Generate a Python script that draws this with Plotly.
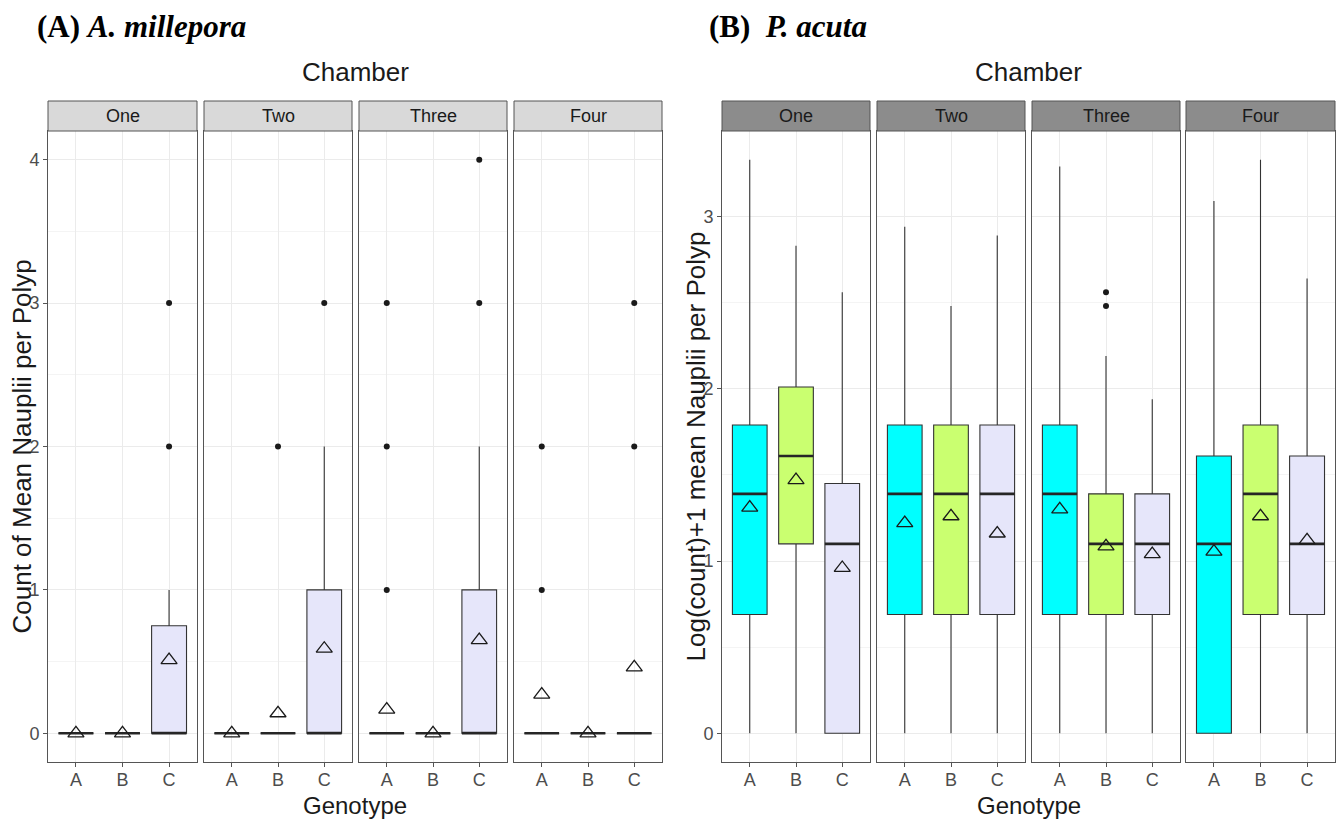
import plotly.graph_objects as go

# ---------------- data ----------------
chambers = ["One", "Two", "Three", "Four"]
genotypes = ["A", "B", "C"]
geno_colors = ["#00FFFF", "#CAFF70", "#E6E6FA"]

# Panel A: A. millepora  (count of mean nauplii per polyp)
mil_q1 = [[0, 0, 0], [0, 0, 0], [0, 0, 0], [0, 0, 0]]
mil_median = [[0, 0, 0], [0, 0, 0], [0, 0, 0], [0, 0, 0]]
mil_q3 = [[0, 0, 0.75], [0, 0, 1], [0, 0, 1], [0, 0, 0]]
mil_lower = [[0, 0, 0], [0, 0, 0], [0, 0, 0], [0, 0, 0]]
mil_upper = [[0, 0, 1], [0, 0, 2], [0, 0, 2], [0, 0, 0]]
mil_mean = [[0.0, 0.0, 0.51], [0.0, 0.14, 0.59], [0.165, 0.0, 0.65], [0.27, 0.0, 0.46]]
mil_outliers = [[[], [], [2, 3]], [[], [2], [3]], [[1, 2, 3], [], [3, 4]], [[1, 2], [], [2, 3]]]

# Panel B: P. acuta  (log(count)+1 mean nauplii per polyp)
acu_q1 = [[0.69, 1.10, 0.0], [0.69, 0.69, 0.69], [0.69, 0.69, 0.69], [0.0, 0.69, 0.69]]
acu_median = [[1.39, 1.61, 1.10], [1.39, 1.39, 1.39], [1.39, 1.10, 1.10], [1.10, 1.39, 1.10]]
acu_q3 = [[1.79, 2.01, 1.45], [1.79, 1.79, 1.79], [1.79, 1.39, 1.39], [1.61, 1.79, 1.61]]
acu_lower = [[0, 0, 0], [0, 0, 0], [0, 0, 0], [0, 0, 0]]
acu_upper = [[3.33, 2.83, 2.56], [2.94, 2.48, 2.89], [3.29, 2.19, 1.94], [3.09, 3.33, 2.64]]
acu_mean = [[1.31, 1.47, 0.96], [1.22, 1.26, 1.16], [1.30, 1.085, 1.04], [1.055, 1.26, 1.12]]
acu_outliers = [[[], [], []], [[], [], []], [[], [2.48, 2.56], []], [[], [], []]]

panel_titles = ["<b>(A) <i>A. millepora</i></b>", "<b>(B)\u00a0 <i>P. acuta</i></b>"]
y_titles = ["Count of Mean Nauplii per Polyp", "Log(count)+1 mean Nauplii per Polyp"]
y_ticks = [[0, 1, 2, 3, 4], [0, 1, 2, 3]]
y_minor = [[0.5, 1.5, 2.5, 3.5], [0.5, 1.5, 2.5, 3.5]]
facet_title = "Chamber"
x_title = "Genotype"

# ---------------- layout geometry (pixels) ----------------
W, H = 1342, 825
facet_px = [
    [(48, 197), (204, 352), (359, 507), (514, 662)],
    [(722, 870), (877, 1025), (1032, 1180), (1186, 1335)],
]
plot_top, plot_bot = 131, 762
strip_top = 101
strip_fill = ["#D9D9D9", "#8C8C8C"]

def px_x(v):
    return v / W

def px_y(v):
    return 1 - v / H

FONT = "Liberation Sans, Arial, Helvetica, sans-serif"
SERIF = "Liberation Serif, Times New Roman, serif"
BOXW = 0.75

panels = [
    dict(q1=mil_q1, med=mil_median, q3=mil_q3, lo=mil_lower, hi=mil_upper,
         mean=mil_mean, out=mil_outliers),
    dict(q1=acu_q1, med=acu_median, q3=acu_q3, lo=acu_lower, hi=acu_upper,
         mean=acu_mean, out=acu_outliers),
]

fig = go.Figure()
layout = dict(
    width=W, height=H,
    margin=dict(l=0, r=0, t=0, b=0),
    paper_bgcolor="white", plot_bgcolor="white",
    showlegend=False,
    font=dict(family=FONT, color="#1A1A1A"),
)
shapes = []
annotations = []

for p, d in enumerate(panels):
    # y range: ggplot style 5% expansion of data range
    vals = []
    for c in range(4):
        for g in range(3):
            vals += [d["lo"][c][g], d["hi"][c][g], d["mean"][c][g]] + list(d["out"][c][g])
    vmin, vmax = min(vals), max(vals)
    span = vmax - vmin
    yr = [vmin - 0.05 * span, vmax + 0.05 * span]

    for c in range(4):
        k = p * 4 + c + 1
        xa = "x" if k == 1 else f"x{k}"
        ya = "y" if k == 1 else f"y{k}"
        x0p, x1p = facet_px[p][c]
        first = (c == 0)
        layout[f"xaxis{k}" if k > 1 else "xaxis"] = dict(
            domain=[px_x(x0p), px_x(x1p)], anchor=ya,
            range=[-0.6, 2.6], tickvals=[0, 1, 2], ticktext=genotypes,
            showgrid=True, gridcolor="#EBEBEB", gridwidth=1,
            zeroline=False, showline=True, mirror=True,
            linecolor="#555555", linewidth=1,
            ticks="outside", ticklen=4, tickcolor="#555555",
            tickfont=dict(size=18, color="#4D4D4D", family=FONT),
            ticklabelstandoff=-3,
            fixedrange=True,
        )
        ykey = f"yaxis{k}" if k > 1 else "yaxis"
        yd = dict(
            domain=[px_y(plot_bot), px_y(plot_top)], anchor=xa,
            range=yr, tickvals=y_ticks[p],
            showgrid=True, gridcolor="#EBEBEB", gridwidth=1,
            minor=dict(tickvals=y_minor[p], showgrid=True, gridcolor="#F4F4F4",
                       gridwidth=0.6, ticks=""),
            zeroline=False, showline=True, mirror=True,
            linecolor="#555555", linewidth=1,
            fixedrange=True,
        )
        if first:
            yd.update(ticks="outside", ticklen=4, tickcolor="#555555",
                      tickfont=dict(size=18, color="#4D4D4D", family=FONT),
                      showticklabels=True)
        else:
            yd.update(ticks="", showticklabels=False,
                      matches=("y" if p == 0 else "y5"))
        layout[ykey] = yd

        # strip
        shapes.append(dict(type="rect", xref="paper", yref="paper",
                           x0=px_x(x0p), x1=px_x(x1p),
                           y0=px_y(plot_top), y1=px_y(strip_top),
                           fillcolor=strip_fill[p],
                           line=dict(color="#555555", width=1)))
        annotations.append(dict(text=chambers[c], xref="paper", yref="paper",
                                x=px_x((x0p + x1p) / 2), y=px_y((strip_top + plot_top) / 2),
                                showarrow=False, xanchor="center", yanchor="middle",
                                font=dict(size=18, color="#1A1A1A", family=FONT)))

        # boxes
        for g in range(3):
            fig.add_trace(go.Box(
                x=[g], q1=[d["q1"][c][g]], median=[d["med"][c][g]], q3=[d["q3"][c][g]],
                lowerfence=[d["lo"][c][g]], upperfence=[d["hi"][c][g]],
                width=BOXW, whiskerwidth=0, boxpoints=False,
                fillcolor=geno_colors[g],
                line=dict(color="#333333", width=1.1),
                xaxis=xa, yaxis=ya, hoverinfo="skip", showlegend=False,
            ))
        # thick median segments (ggplot fatten)
        for g in range(3):
            fig.add_trace(go.Scatter(
                x=[g - BOXW / 2, g + BOXW / 2], y=[d["med"][c][g]] * 2,
                mode="lines", line=dict(color="#262626", width=2.6),
                xaxis=xa, yaxis=ya, hoverinfo="skip", showlegend=False,
            ))
        # outliers
        ox, oy = [], []
        for g in range(3):
            for v in d["out"][c][g]:
                ox.append(g)
                oy.append(v)
        if ox:
            fig.add_trace(go.Scatter(
                x=ox, y=oy, mode="markers",
                marker=dict(symbol="circle", size=6, color="#1A1A1A"),
                xaxis=xa, yaxis=ya, hoverinfo="skip", showlegend=False,
            ))
        # means
        fig.add_trace(go.Scatter(
            x=[0, 1, 2], y=d["mean"][c], mode="markers",
            marker=dict(symbol="triangle-up-open", size=14, color="#1A1A1A",
                        line=dict(width=1.3, color="#1A1A1A")),
            xaxis=xa, yaxis=ya, hoverinfo="skip", showlegend=False,
        ))

    # panel-level texts
    left = facet_px[p][0][0]
    right = facet_px[p][3][1]
    cx = px_x((left + right) / 2)
    annotations.append(dict(text=facet_title, xref="paper", yref="paper",
                            x=cx, y=px_y(72), showarrow=False,
                            xanchor="center", yanchor="middle",
                            font=dict(size=26, color="#1A1A1A", family=FONT)))
    annotations.append(dict(text=x_title, xref="paper", yref="paper",
                            x=cx, y=px_y(805), showarrow=False,
                            xanchor="center", yanchor="middle",
                            font=dict(size=24, color="#1A1A1A", family=FONT)))
    annotations.append(dict(text=y_titles[p], xref="paper", yref="paper",
                            x=px_x([21, 695][p]), y=px_y((plot_top + plot_bot) / 2),
                            showarrow=False, textangle=-90,
                            xanchor="center", yanchor="middle",
                            font=dict(size=26, color="#1A1A1A", family=FONT)))
    annotations.append(dict(text=panel_titles[p], xref="paper", yref="paper",
                            x=px_x([35, 707][p]), y=px_y(27), showarrow=False,
                            xanchor="left", yanchor="middle",
                            font=dict(size=31, color="black", family=SERIF)))

layout["shapes"] = shapes
layout["annotations"] = annotations
fig.update_layout(**layout)

fig.write_html("out.html", config={"displayModeBar": False})
